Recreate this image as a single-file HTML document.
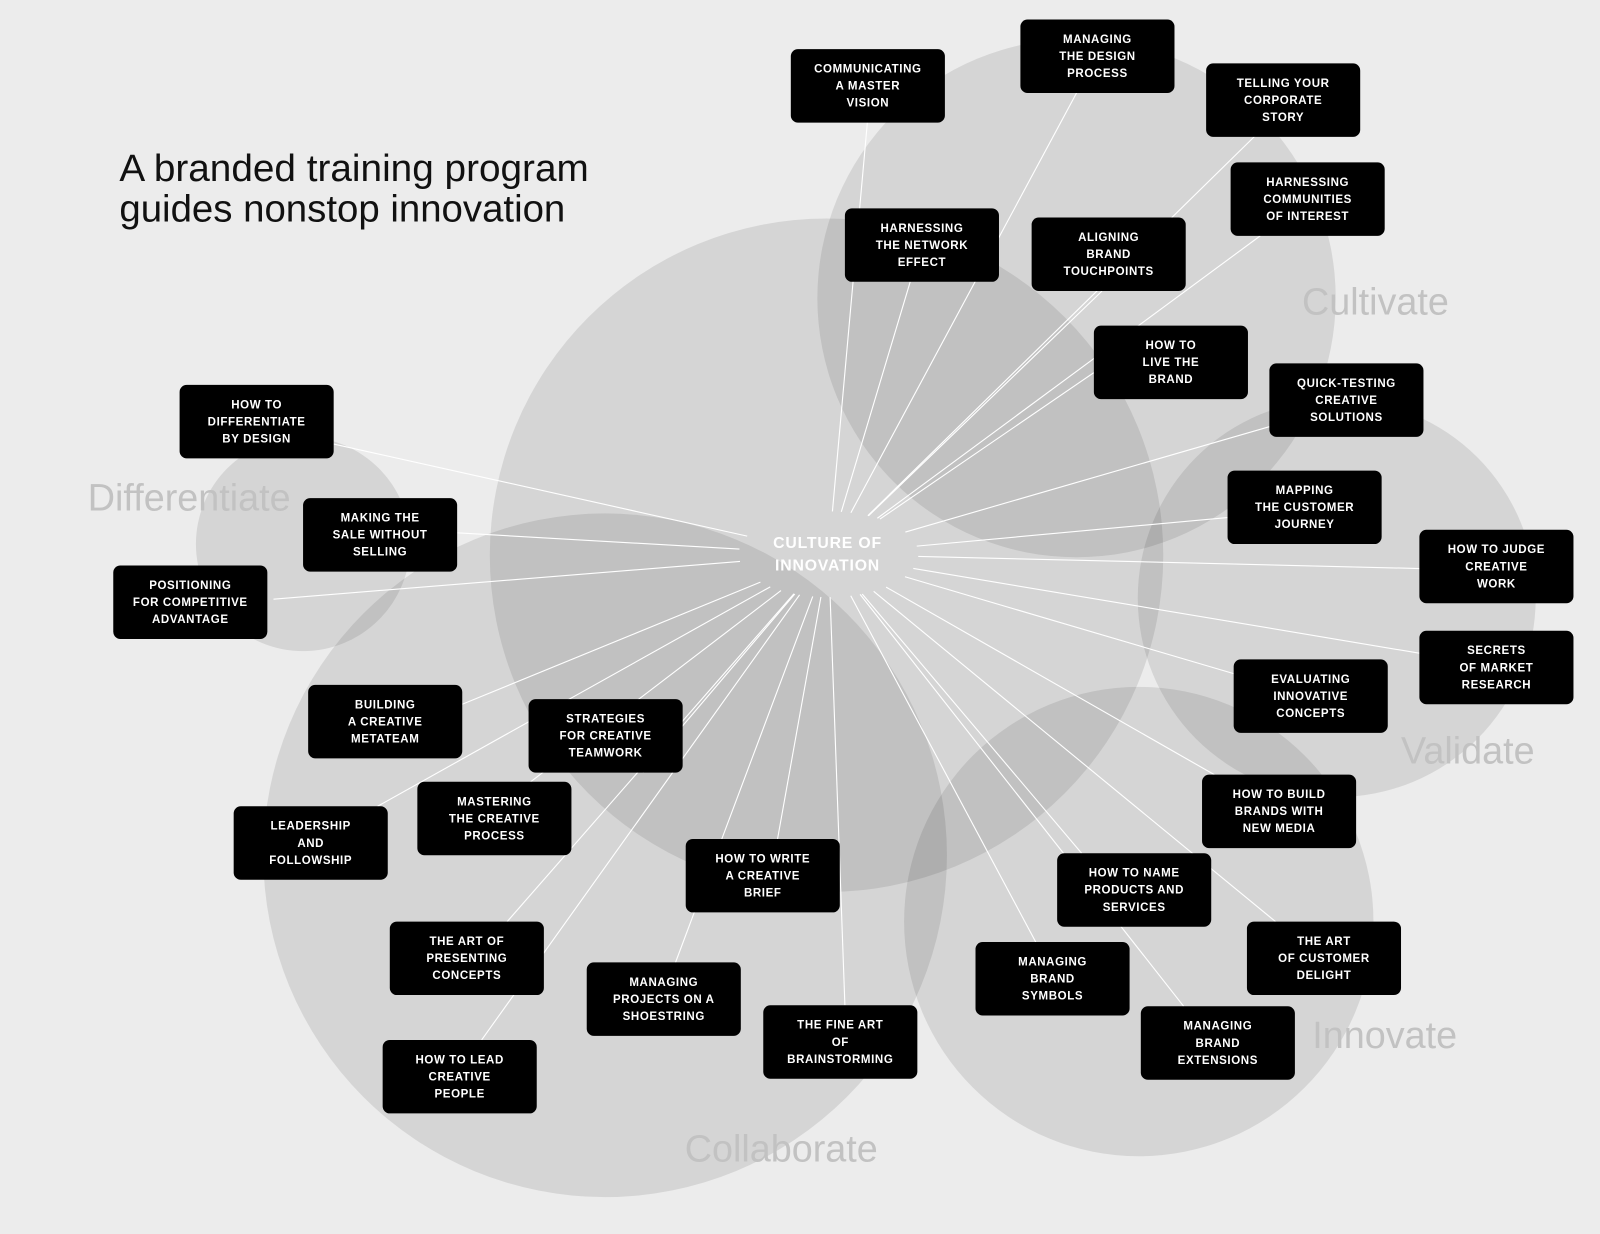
<!DOCTYPE html>
<html><head><meta charset="utf-8">
<style>
html,body{margin:0;padding:0;background:#ececec;}
svg{display:block;}
.b{fill:#000;}
.t{fill:#fff;font-family:"Liberation Sans",Arial,sans-serif;font-weight:bold;font-size:11.3px;letter-spacing:0.6px;text-anchor:middle;}
.lab{fill:#c2c2c2;font-family:"Liberation Sans",Arial,sans-serif;font-size:37px;}
</style></head>
<body>
<svg id="s" width="1600" height="1234" viewBox="0 0 1568 1209" xmlns="http://www.w3.org/2000/svg">
<rect width="1568" height="1209" fill="#ececec"/>
<g fill="#000" fill-opacity="0.095">
<circle cx="1055" cy="292" r="254"/>
<circle cx="297" cy="533" r="105"/>
<circle cx="1310" cy="586" r="195"/>
<circle cx="1116" cy="903" r="230"/>
<circle cx="593" cy="838" r="335"/>
<circle cx="810" cy="544" r="330"/>
</g>
<text x="117" y="177" font-family="Liberation Sans,Arial,sans-serif" font-size="37.5" fill="#111" textLength="460" lengthAdjust="spacingAndGlyphs">A branded training program</text>
<text x="117" y="217" font-family="Liberation Sans,Arial,sans-serif" font-size="37.5" fill="#111" textLength="437" lengthAdjust="spacingAndGlyphs">guides nonstop innovation</text>
<text class="lab" x="1276" y="308">Cultivate</text>
<text class="lab" x="86" y="500">Differentiate</text>
<text class="lab" x="1373" y="748">Validate</text>
<text class="lab" x="1286" y="1027">Innovate</text>
<text class="lab" x="671" y="1138">Collaborate</text>
<g id="lines" stroke="#fff" stroke-width="1.1" fill="none"></g>
<g id="boxes"></g>
<text x="811" y="537" fill="#fff" font-family="Liberation Sans,Arial,sans-serif" font-weight="bold" font-size="15.5" letter-spacing="0.8" text-anchor="middle">CULTURE OF</text>
<text x="811" y="559" fill="#fff" font-family="Liberation Sans,Arial,sans-serif" font-weight="bold" font-size="15.5" letter-spacing="0.8" text-anchor="middle">INNOVATION</text>
</svg>
<script>
var B=[
[775,48,["COMMUNICATING","A MASTER","VISION"],[850,120]],
[1000,19,["MANAGING","THE DESIGN","PROCESS"],[1055,91]],
[1182,62,["TELLING YOUR","CORPORATE","STORY"],[1230,133]],
[1206,159,["HARNESSING","COMMUNITIES","OF INTEREST"],[1235,231]],
[828,204,["HARNESSING","THE NETWORK","EFFECT"],[892,276]],
[1011,213,["ALIGNING","BRAND","TOUCHPOINTS"],[1080,285]],
[1072,319,["HOW TO","LIVE THE","BRAND"],[1072,365]],
[1244,356,["QUICK-TESTING","CREATIVE","SOLUTIONS"],[1244,418]],
[1203,461,["MAPPING","THE CUSTOMER","JOURNEY"],[1203,507]],
[1391,519,["HOW TO JUDGE","CREATIVE","WORK"],[1391,557]],
[1391,618,["SECRETS","OF MARKET","RESEARCH"],[1391,640]],
[1209,646,["EVALUATING","INNOVATIVE","CONCEPTS"],[1209,660]],
[1178,759,["HOW TO BUILD","BRANDS WITH","NEW MEDIA"],[1190,759]],
[1036,836,["HOW TO NAME","PRODUCTS AND","SERVICES"],[1060,836]],
[1222,903,["THE ART","OF CUSTOMER","DELIGHT"],[1250,903]],
[956,923,["MANAGING","BRAND","SYMBOLS"],[1015,923]],
[1118,986,["MANAGING","BRAND","EXTENSIONS"],[1160,986]],
[748,985,["THE FINE ART","OF","BRAINSTORMING"],[828,985]],
[672,822,["HOW TO WRITE","A CREATIVE","BRIEF"],[762,822]],
[575,943,["MANAGING","PROJECTS ON A","SHOESTRING"],[662,943]],
[375,1019,["HOW TO LEAD","CREATIVE","PEOPLE"],[472,1019]],
[382,903,["THE ART OF","PRESENTING","CONCEPTS"],[497,903]],
[409,766,["MASTERING","THE CREATIVE","PROCESS"],[520,766]],
[229,790,["LEADERSHIP","AND","FOLLOWSHIP"],[370,790]],
[518,685,["STRATEGIES","FOR CREATIVE","TEAMWORK"],[630,757]],
[302,671,["BUILDING","A CREATIVE","METATEAM"],[453,690]],
[111,554,["POSITIONING","FOR COMPETITIVE","ADVANTAGE"],[268,587]],
[297,488,["MAKING THE","SALE WITHOUT","SELLING"],[448,522]],
[176,377,["HOW TO","DIFFERENTIATE","BY DESIGN"],[327,435]]
];
var NS="http://www.w3.org/2000/svg",L=document.getElementById("lines"),G=document.getElementById("boxes");
var cx=812,cy=543,rx=88,ry=42;
B.forEach(function(b){
 var p=b[3],dx=p[0]-cx,dy=p[1]-cy;
 var k=1/Math.sqrt(dx*dx/(rx*rx)+dy*dy/(ry*ry));
 var l=document.createElementNS(NS,"line");
 l.setAttribute("x1",p[0]);l.setAttribute("y1",p[1]);
 l.setAttribute("x2",cx+dx*k);l.setAttribute("y2",cy+dy*k);
 L.appendChild(l);
 var r=document.createElementNS(NS,"rect");
 r.setAttribute("x",b[0]);r.setAttribute("y",b[1]);r.setAttribute("width",151);r.setAttribute("height",72);
 r.setAttribute("rx",7);r.setAttribute("class","b");G.appendChild(r);
 b[2].forEach(function(s,i){
  var t=document.createElementNS(NS,"text");
  t.setAttribute("x",b[0]+75.5);t.setAttribute("y",b[1]+23+i*16.7);
  t.setAttribute("class","t");t.textContent=s;G.appendChild(t);
 });
});
</script>
</body></html>
